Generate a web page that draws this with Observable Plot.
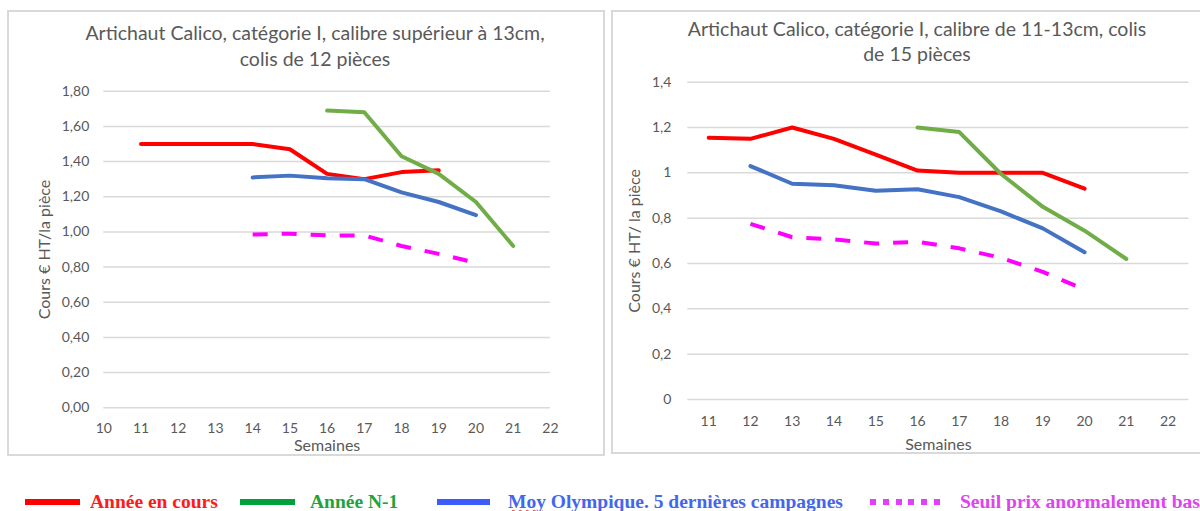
<!DOCTYPE html>
<html><head><meta charset="utf-8">
<script src="https://cdn.jsdelivr.net/npm/d3@7"></script>
<script src="https://cdn.jsdelivr.net/npm/@observablehq/plot@0.6"></script>
<style>
html,body{margin:0;padding:0;background:#fff}
body{width:1200px;height:511px;overflow:hidden;position:relative;font-family:Lato,sans-serif}
.panel{position:absolute;border:2px solid #d9d9d9;box-sizing:border-box}
.title{position:absolute;text-align:center;color:#595959;font-size:19.5px;white-space:nowrap;transform:translateX(-50%)}
.chart{position:absolute;top:0}
.sw{position:absolute;height:6px;top:499px}
.lt{position:absolute;top:489px;font-family:"Liberation Serif",serif;font-weight:bold;font-size:19.5px;line-height:26px;white-space:nowrap}
</style></head>
<body>
<div class="panel" style="left:7px;top:10px;width:598px;height:446px"></div>
<div class="panel" style="left:611px;top:10px;width:600px;height:444px"></div>
<div class="title" id="t1" style="left:315px;top:20px;line-height:26px"></div>
<div class="title" id="t2" style="left:917px;top:15.5px;line-height:25px"></div>
<div class="chart" id="c1" style="left:0px"></div>
<div class="chart" id="c2" style="left:600px"></div>
<div id="legend"></div>
<script>
// ---------- data ----------
const titleLeft = ["Artichaut Calico, catégorie I, calibre supérieur à 13cm,", "colis de 12 pièces"];
const titleRight = ["Artichaut Calico, catégorie I, calibre de 11-13cm, colis", "de 15 pièces"];
const xLabel = "Semaines";
const yLabelLeft = "Cours € HT/la pièce";
const yLabelRight = "Cours € HT/ la pièce";

const weeks = [11, 12, 13, 14, 15, 16, 17, 18, 19, 20, 21];
const xTicksLeft = [10, 11, 12, 13, 14, 15, 16, 17, 18, 19, 20, 21, 22];
const xTicksRight = [11, 12, 13, 14, 15, 16, 17, 18, 19, 20, 21, 22];
const yTicksLeft = [0, 0.2, 0.4, 0.6, 0.8, 1.0, 1.2, 1.4, 1.6, 1.8];
const yTicksRight = [0, 0.2, 0.4, 0.6, 0.8, 1.0, 1.2, 1.4];

const seriesNames = ["Année en cours", "Année N-1", "Moy Olympique. 5 dernières campagnes", "Seuil prix anormalement bas"];

// left chart (calibre > 13cm)
const enCoursL = [1.50, 1.50, 1.50, 1.50, 1.47, 1.33, 1.30, 1.34, 1.35, null, null];
const n1L      = [null, null, null, null, null, 1.69, 1.68, 1.43, 1.33, 1.17, 0.92];
const moyL     = [null, null, null, 1.31, 1.32, 1.305, 1.30, 1.225, 1.17, 1.095, null];
const seuilL   = [null, null, null, 0.985, 0.99, 0.98, 0.98, 0.92, 0.875, 0.825, null];

// right chart (calibre 11-13cm)
const enCoursR = [1.155, 1.15, 1.20, 1.15, 1.08, 1.01, 1.00, 1.00, 1.00, 0.93, null];
const n1R      = [null, null, null, null, null, 1.20, 1.18, 0.995, 0.85, 0.745, 0.62];
const moyR     = [null, 1.03, 0.952, 0.945, 0.921, 0.928, 0.893, 0.83, 0.755, 0.65, null];
const seuilR   = [null, 0.775, 0.716, 0.707, 0.688, 0.696, 0.667, 0.625, 0.563, 0.485, null];

// ---------- styles ----------
const lineColors = ["#ff0000", "#70ad47", "#4472c4", "#ff00ff"];
const legendSwatch = ["#ff0000", "#00a03c", "#3a5cff", "#e040f8"];
const legendText = ["#ff1a1a", "#22a33a", "#4466ee", "#dd44f0"];

function rows(vals) { return weeks.map((w, i) => ({week: w, value: vals[i]})); }

function seriesMarks(arr) {
  return arr.map((vals, i) => Plot.line(rows(vals), {
    x: "week", y: "value", stroke: lineColors[i], strokeWidth: 4,
    strokeLinecap: i === 3 ? "butt" : "round", strokeLinejoin: "round",
    strokeDasharray: i === 3 ? "15,14" : null
  }));
}

const fmtLeft = d => d3.format(".2f")(d).replace(".", ",");
const fmtRight = d => String(+d.toFixed(1)).replace(".", ",");
const txt = "#595959";

function chart({width, height, ml, mr, mt, mb, xDomain, xTicks, yDomain, yTicks, yFmt, xPad, yPad, yLabel, yLabOff, xLabOff, data}) {
  return Plot.plot({
    width, height, marginLeft: ml, marginRight: mr, marginTop: mt, marginBottom: mb,
    x: {domain: xDomain}, y: {domain: yDomain},
    style: {fontFamily: "Lato, sans-serif", fontSize: "14px", color: txt, background: "transparent", overflow: "visible"},
    marks: [
      Plot.ruleY(yTicks, {stroke: "#d9d9d9", strokeWidth: 1.5}),
      Plot.axisX(xTicks, {tickSize: 0, tickPadding: xPad, tickFormat: d => String(d), label: null, fill: txt}),
      Plot.axisX([], {label: xLabel, labelAnchor: "center", labelOffset: xLabOff, labelArrow: false, fontSize: 16, fill: txt, tickSize: 0}),
      Plot.axisY(yTicks, {tickSize: 0, tickPadding: yPad, tickFormat: yFmt, label: null, fill: txt}),
      Plot.axisY([], {label: yLabel, labelAnchor: "center", labelOffset: yLabOff, labelArrow: false, fontSize: 16, fill: txt, tickSize: 0}),
      ...seriesMarks(data)
    ]
  });
}

document.getElementById("c1").append(chart({
  width: 605, height: 460, ml: 103.3, mr: 55.1, mt: 90.7, mb: 52.7,
  xDomain: [10, 22], xTicks: xTicksLeft, yDomain: [0, 1.8], yTicks: yTicksLeft, yFmt: fmtLeft,
  xPad: 15.7, yPad: 14.5, yLabel: yLabelLeft, yLabOff: 65, xLabOff: 43,
  data: [enCoursL, n1L, moyL, seuilL]
}));
document.getElementById("c2").append(chart({
  width: 600, height: 460, ml: 87.3, mr: 11.5, mt: 81.7, mb: 61,
  xDomain: [10.5, 22.5], xTicks: xTicksRight, yDomain: [0, 1.4], yTicks: yTicksRight, yFmt: fmtRight,
  xPad: 17, yPad: 16.5, yLabel: yLabelRight, yLabOff: 59, xLabOff: 50,
  data: [enCoursR, n1R, moyR, seuilR]
}));

document.getElementById("t1").innerHTML = titleLeft.join("<br>");
document.getElementById("t2").innerHTML = titleRight.join("<br>");

// legend
const lg = document.getElementById("legend");
const swX = [[25, 55], [240, 55], [437, 53], [870, 72]];
const txX = [90, 310, 508, 960];
seriesNames.forEach((name, i) => {
  const s = document.createElement("div");
  s.className = "sw";
  s.style.left = swX[i][0] + "px";
  s.style.width = swX[i][1] + "px";
  s.style.background = i === 3
    ? `repeating-linear-gradient(90deg, ${legendSwatch[i]} 0 6px, transparent 6px 12.8px)`
    : legendSwatch[i];
  lg.append(s);
  const t = document.createElement("div");
  t.className = "lt";
  t.style.left = txX[i] + "px";
  t.style.color = legendText[i];
  if (i === 2) {
    const parts = name.split(" ");
    t.innerHTML = `<span style="text-decoration:underline wavy #e03030;text-decoration-thickness:1px">${parts[0]}</span> ` + parts.slice(1).join(" ");
  } else t.textContent = name;
  lg.append(t);
});
</script>
</body></html>
